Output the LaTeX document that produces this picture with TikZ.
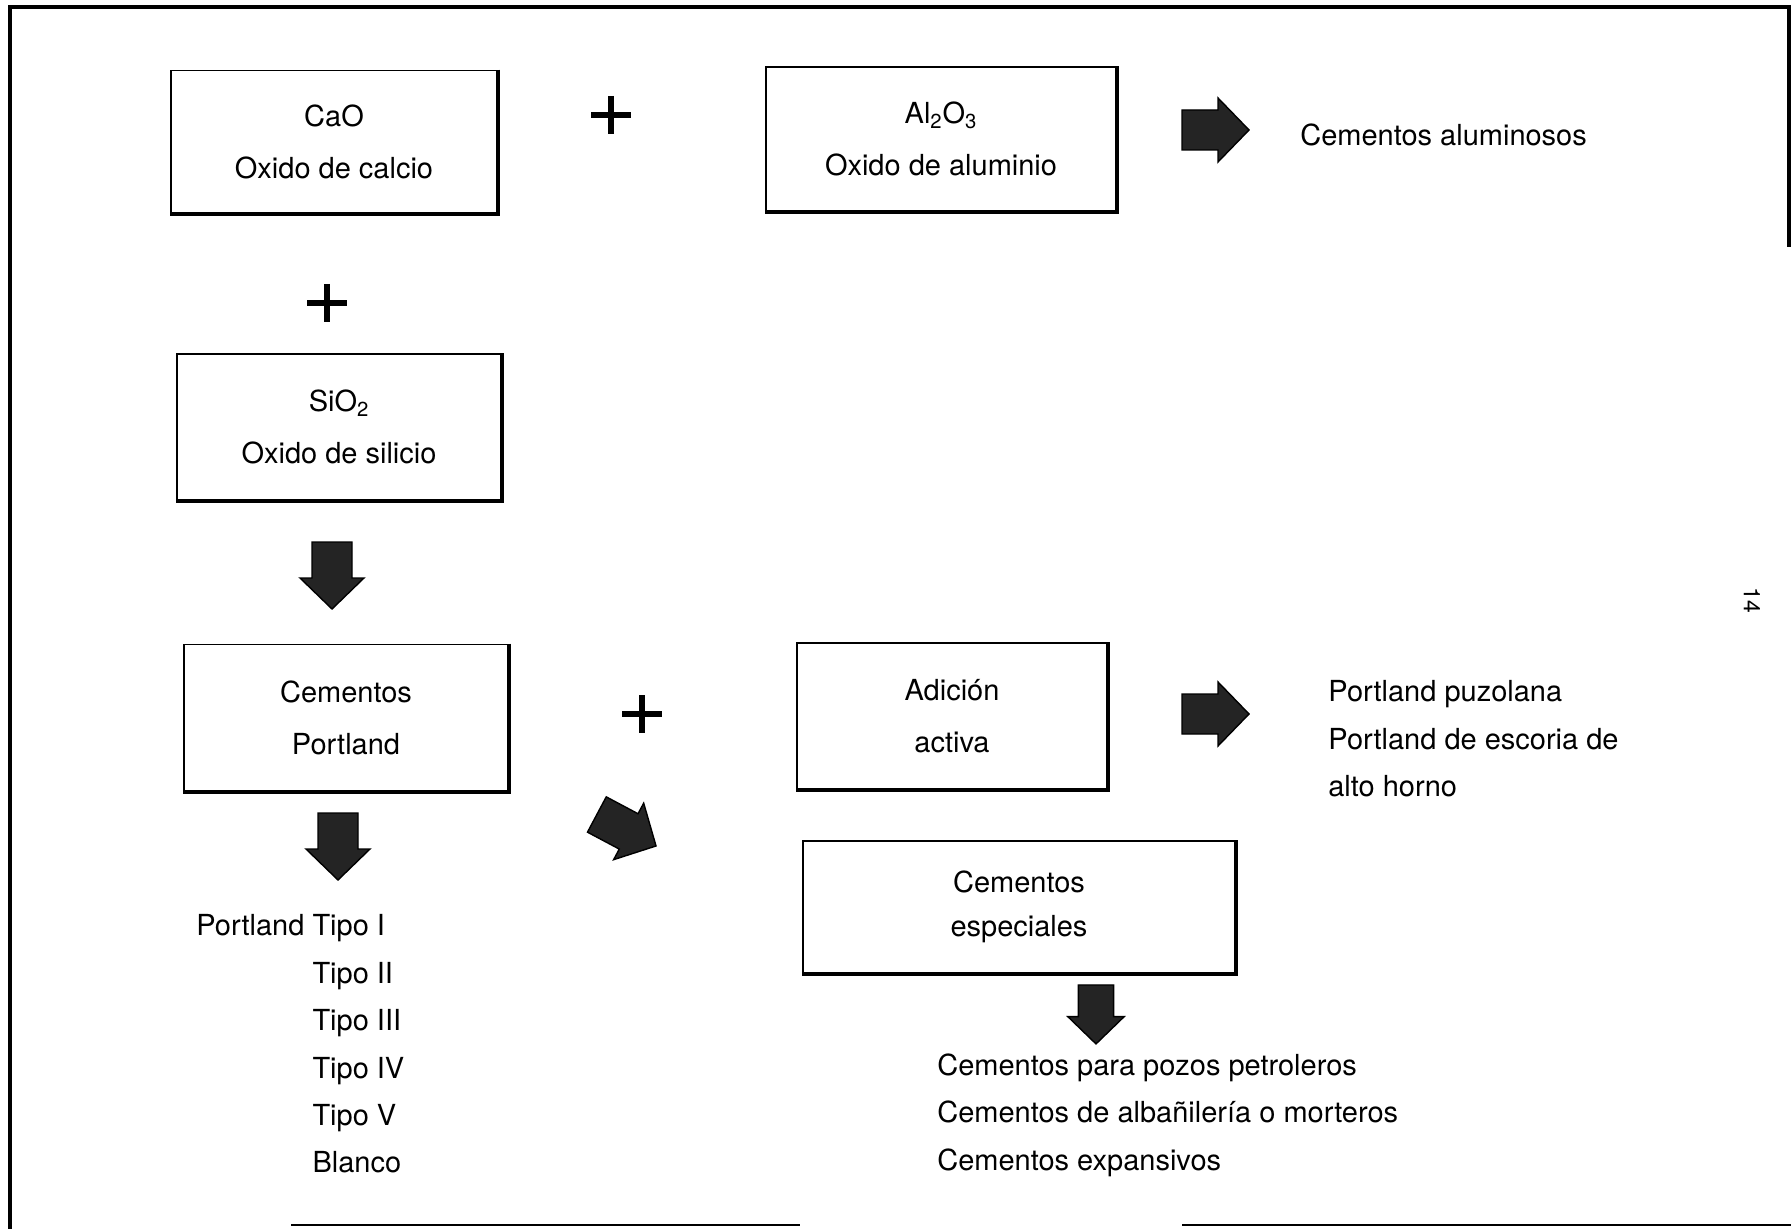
\documentclass[tikz,border=0pt]{standalone}
\usepackage{fontspec}
\setmainfont{TeX Gyre Heros}
\usetikzlibrary{arrows}

\begin{document}
\begin{tikzpicture}[x=0.02cm,y=-0.02cm,
	caja/.style={draw, line width=1.1pt, inner sep=0pt, align=center, font=\fontsize{16.5}{29.5}\selectfont},
	texto/.style={inner sep=0pt, align=left, anchor=west, font=\fontsize{16.5}{27}\selectfont},
	flecha/.pic={\filldraw[fill=black!86, draw=black, line width=0.8pt] (-33,-20) -- (3,-20) -- (3,-32) -- (34,0) -- (3,32) -- (3,20) -- (-33,20) -- cycle;},
	mas/.pic={\draw[line width=3pt] (-20,0) -- (20,0) (0,-19) -- (0,19);}]
	\useasboundingbox (0,0) rectangle (1791,1229);

	% marco
	\draw [line width=2.2pt] (10,1229) -- (10,7) -- (1789,7) -- (1789,247);
	\draw [line width=1pt] (291,1225) -- (800,1225);
	\draw [line width=1pt] (1182,1225) -- (1791,1225);

	% cajas
	\node [caja, minimum width=6.52cm, minimum height=2.86cm] (cao) at (334,142) {CaO\\Oxido de calcio};
	\node [caja, minimum width=7.02cm, minimum height=2.88cm] (alu) at (941,139) {Al\textsubscript{2}O\textsubscript{3}\\Oxido de aluminio};
	\node [caja, minimum width=6.48cm, minimum height=2.92cm] (sio) at (339,427) {SiO\textsubscript{2}\\Oxido de silicio};
	\node [caja, minimum width=6.48cm, minimum height=2.94cm] (port) at (346,718) {Cementos\\Portland};
	\node [caja, minimum width=6.20cm, minimum height=2.92cm] (adic) at (952,716) {Adición\\activa};
	\node [caja, minimum width=8.64cm, minimum height=2.64cm, font=\fontsize{16.5}{25}\selectfont] (esp) at (1019,907) {Cementos\\especiales};
	\foreach \n in {cao,alu,sio,port,adic,esp}
		\draw [line width=2.3pt] (\n.north east) -- (\n.south east) -- (\n.south west);

	% signos +
	\pic at (611,115) {mas};
	\pic at (327,303) {mas};
	\pic at (642,714) {mas};

	% flechas
	\pic at (1215,130) {flecha};
	\pic at (1215,714) {flecha};
	\pic [rotate=-90] at (332,575) {flecha};
	\pic [rotate=-90] at (338,846) {flecha};
	\pic [rotate=-90, scale=0.88] at (1096,1014) {flecha};
	\pic [rotate=-28] at (626,830) {flecha};

	% resultados
	\node [texto] (alumin) at (1300,135) {Cementos aluminosos};
	\node [texto] (puzol) at (1328,739) {Portland puzolana\\Portland de escoria de\\alto horno};
	\node [texto] (tipos) at (196,1044) {Portland Tipo I\\\hphantom{Portland }Tipo II\\\hphantom{Portland }Tipo III\\\hphantom{Portland }Tipo IV\\\hphantom{Portland }Tipo V\\\hphantom{Portland }Blanco};
	\node [texto] (espec) at (937,1115) {Cementos para pozos petroleros\\Cementos de albañilería o morteros\\Cementos expansivos};

	\node [rotate=-90, font=\fontsize{13}{13}\selectfont] (pag) at (1752,600) {14};
\end{tikzpicture}
\end{document}
